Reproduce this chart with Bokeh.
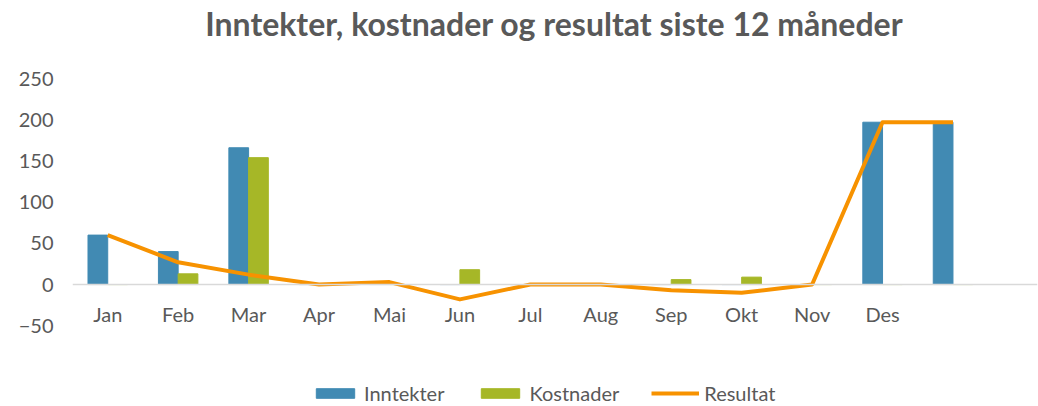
from bokeh.plotting import figure
from bokeh.models import ColumnDataSource, Span, Legend, LegendItem, Range1d, FixedTicker, Label
from bokeh.transform import dodge
from bokeh.core.properties import value
from bokeh.embed import file_html
from bokeh.resources import INLINE

months = ["Jan", "Feb", "Mar", "Apr", "Mai", "Jun", "Jul", "Aug", "Sep", "Okt", "Nov", "Des", ""]
inntekter = [60, 40, 166, 0, 3, 0, 0, 0, 0, 0, 0, 197, 197]
kostnader = [0, 13, 154, 0, 0, 18, 0, 0, 6, 9, 0, 0, 0]
resultat = [60, 27, 12, 0, 3, -18, 0, 0, -7, -10, 0, 197, 197]
y_ticks = [-50, 0, 50, 100, 150, 200, 250]
title = "Inntekter, kostnader og resultat siste 12 måneder"

FONT = "Lato"
TXT = "#595959"

idx = list(range(len(months)))
src = ColumnDataSource(dict(x=idx, m=months, inn=inntekter, kos=kostnader, res=resultat,
                            zero=[0] * len(months)))

# frame spans the full canvas height so title and legend can sit inside it
p = figure(width=1038, height=406, output_backend="svg", toolbar_location=None,
           x_range=Range1d(-0.5, 13.2), y_range=Range1d(-148, 344.7),
           x_axis_location=None, min_border_left=72, min_border_right=1,
           min_border_bottom=0, min_border_top=0)
p.outline_line_color = None
p.xgrid.visible = False
p.ygrid.visible = False

p.add_layout(Label(x=6.34, y=316.5, text=title, text_align="center", text_baseline="middle",
                   text_font=FONT, text_font_size="32px", text_font_style="bold",
                   text_color=TXT))

p.yaxis.ticker = FixedTicker(ticks=y_ticks)
p.yaxis.axis_line_color = None
p.yaxis.major_tick_line_color = None
p.yaxis.minor_tick_line_color = None
p.yaxis.major_label_text_font = FONT
p.yaxis.major_label_text_font_size = "20px"
p.yaxis.major_label_text_color = TXT
p.yaxis.major_label_standoff = 13

p.add_layout(Span(location=0, dimension="width", line_color="#D9D9D9", line_width=1.5))

b1 = p.vbar(x=dodge("x", -0.14, range=p.x_range), top="inn", width=0.28, source=src,
            fill_color="#418AB3", line_color="#418AB3")
b2 = p.vbar(x=dodge("x", 0.14, range=p.x_range), top="kos", width=0.28, source=src,
            fill_color="#A6B727", line_color="#A6B727")
l1 = p.line(x="x", y="res", source=src, line_color="#F79200", line_width=4,
            line_join="round")

p.text(x="x", y="zero", text="m", source=src, y_offset=29, text_align="center",
       text_baseline="middle", text_font=value(FONT), text_font_size="20px", text_color=TXT)

legend = Legend(items=[LegendItem(label="Inntekter", renderers=[b1]),
                       LegendItem(label="Kostnader", renderers=[b2]),
                       LegendItem(label="Resultat", renderers=[l1])],
                orientation="horizontal", location=(239, 1),
                label_text_font=FONT, label_text_font_size="20px", label_text_color=TXT,
                glyph_width=48, glyph_height=12, spacing=32, label_standoff=5,
                border_line_color=None, background_fill_alpha=0, margin=0, padding=0)
p.add_layout(legend, "center")

open("out.html", "w").write(file_html(p, INLINE))
